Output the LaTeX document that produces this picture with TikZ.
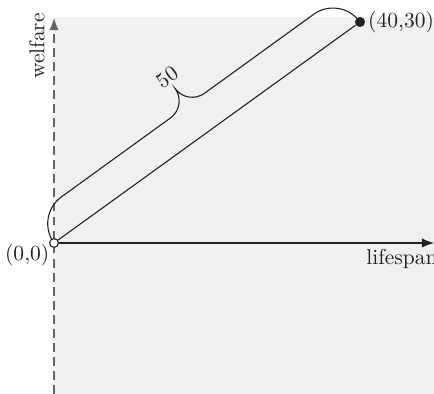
\documentclass[tikz,border=0pt]{standalone}
\usepackage{tikz}
\usetikzlibrary{arrows.meta, backgrounds}
\definecolor{bggray}{RGB}{240,240,240}
\definecolor{inkgray}{RGB}{34,34,34}
\definecolor{axisgray}{RGB}{100,100,100}

\begin{document}
\begin{tikzpicture}[
    x=0.016cm, y=0.016cm,
    axis/.style={-{Latex[length=5.5pt, width=4.2pt]}, line width=0.5pt, draw=inkgray},
    dashaxis/.style={axis, draw=axisgray, dash pattern=on 4pt off 2.4pt},
    opendot/.style={circle, draw=inkgray, fill=white, minimum size=4pt, inner sep=0pt, line width=0.5pt},
    fulldot/.style={circle, fill=inkgray, minimum size=4.6pt, inner sep=0pt},
    segment/.style={line width=0.5pt, draw=inkgray},
    bracepath/.style={line width=0.5pt, draw=inkgray},
    lbl/.style={font=\fontsize{9.8}{12}\selectfont, text=inkgray, inner sep=1pt},
]
\useasboundingbox (0,0) rectangle (434,394);
\node[opendot] (o) at (54,151) {};
\node[fulldot] (p) at (360,372) {};
\coordinate (ybot) at (54,0);
\coordinate (ytop) at (54,376);
\coordinate (xend) at (434,151);
\begin{scope}[on background layer]
    \fill[bggray] (54,0) rectangle (434,377);
    \draw[dashaxis] (ybot) -- (ytop);
    \begin{scope}[shift={(o.center)}, rotate=35.9]
        \draw[bracepath] (0,0) arc (180:90:33) -- (167.7,33) arc (270:360:21)
            arc (180:270:21) -- (344.4,33) arc (90:0:33);
        \node[lbl, rotate=35.9] (len) at (188.7,68) {50};
    \end{scope}
\end{scope}
\draw[axis] (o) -- (xend);
\draw[segment] (o) -- (p);
\node[lbl, anchor=west] (plbl) at (p.east) {(40,30)};
\node[lbl, anchor=east] (olbl) at (52,139) {(0,0)};
\node[lbl] (xlbl) at (402,135) {lifespan};
\node[lbl, rotate=90] (ylbl) at (37,348) {welfare};
\end{tikzpicture}
\end{document}
